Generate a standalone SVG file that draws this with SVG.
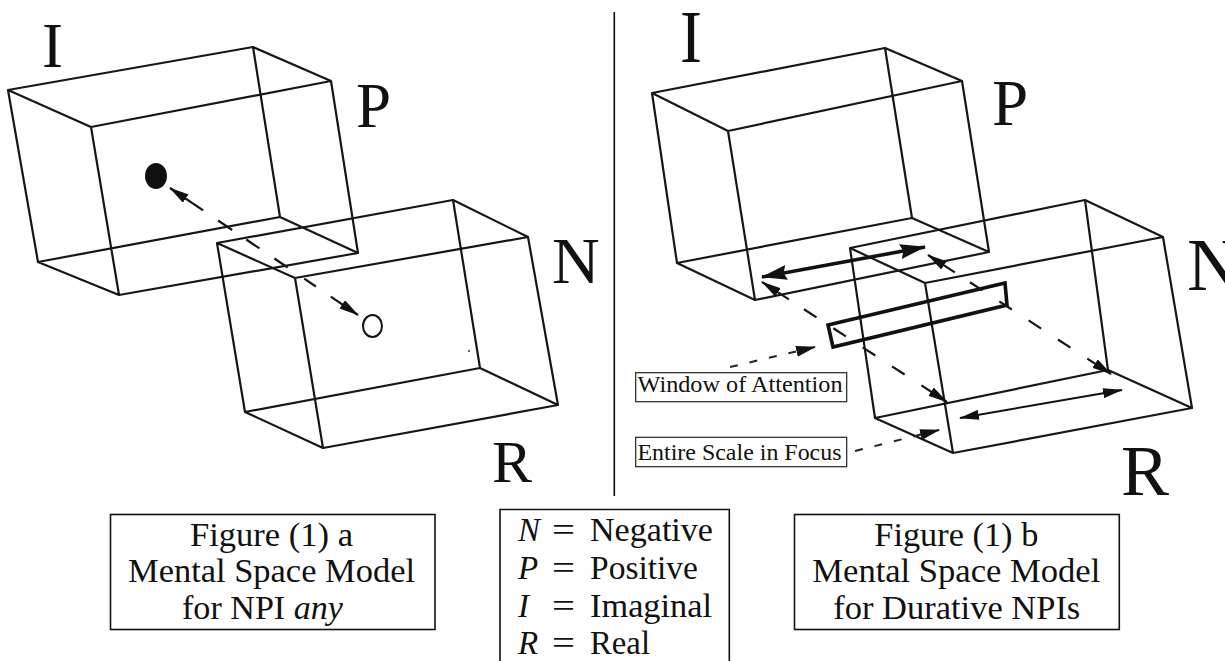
<svg xmlns="http://www.w3.org/2000/svg" width="1225" height="661" viewBox="0 0 1225 661">
<defs>
<style>
.edge{fill:none;stroke:#161616;stroke-width:2.2;stroke-linejoin:round;stroke-linecap:round}
text{fill:#111}
.cap{font-size:33px}
.small{font-size:23px}
.frame{fill:none;stroke:#111;stroke-width:1.6}
.sframe{fill:#fff;stroke:#222;stroke-width:1.2}
.dash{fill:none;stroke:#161616;stroke-width:2.2}
.thick{fill:none;stroke:#111;stroke-width:3.6;stroke-linejoin:miter}
.dot{fill:none;stroke:#222;stroke-width:2}
</style>
<marker id="ah" viewBox="0 0 20 10" markerWidth="20" markerHeight="10" refX="19" refY="5" markerUnits="userSpaceOnUse" orient="auto-start-reverse">
<path d="M0,0 L20,5 L0,10 Z" fill="#111"/>
</marker>
<marker id="ahBig" viewBox="0 0 26 15" markerWidth="26" markerHeight="15" refX="25" refY="7.5" markerUnits="userSpaceOnUse" orient="auto-start-reverse">
<path d="M0,0 L26,7.5 L0,15 L3,7.5 Z" fill="#111"/>
</marker>
<marker id="ahP" viewBox="0 0 20 11" markerWidth="20" markerHeight="11" refX="19" refY="5.5" markerUnits="userSpaceOnUse" orient="auto">
<path d="M0,0 L20,5.5 L0,11 Z" fill="#111"/>
</marker>
</defs>
<rect width="1225" height="661" fill="#fff"/>

<line x1="614.3" y1="12" x2="614.3" y2="496" stroke="#111" stroke-width="1.6"/>

<g font-family="Liberation Serif, Times New Roman, serif">
<g id="space-IP-a">
<path class="edge" d="M8,90 L253,47 L331,81 L91,127 Z M8,90 L38,262 M91,127 L119,295 M253,47 L280,217 M331,81 L358,253 M38,262 L119,295 L358,253 L280,217 Z"/>
<text x="52.5" y="67" font-size="63" text-anchor="middle">I</text>
<text x="356" y="127" font-size="63">P</text>
<ellipse cx="156" cy="176" rx="11" ry="13" fill="#111"/>
</g>
<g id="space-NR-a">
<path class="edge" d="M217,243 L453,200 L528,237 L295,278 Z M217,243 L245,412 M295,278 L323,448 M453,200 L480,368 M528,237 L558,405 M245,412 L323,448 L558,405 L480,368 Z"/>
<text x="552" y="283" font-size="66">N</text>
<text x="492" y="482" font-size="60">R</text>
<ellipse cx="372.5" cy="326" rx="9.5" ry="11" fill="none" stroke="#111" stroke-width="2"/>
<circle cx="469" cy="351" r="1" fill="#333"/>
</g>

<g id="space-IP-b">
<path class="edge" d="M652,93 L885,48 L962,81 L728,131 Z M652,93 L677,263 M728,131 L755,300 M885,48 L912,218 M962,81 L989,252 M677,263 L755,300 L989,252 L912,218 Z"/>
<text transform="translate(691,62) scale(1,1.12)" font-size="66" text-anchor="middle">I</text>
<text x="992" y="125" font-size="65">P</text>
</g>
<g id="space-NR-b">
<path class="edge" d="M850,248 L1085,200 L1163,237 L925,283 Z M850,248 L875,418 M925,283 L953,453 M1085,200 L1108,370 M1163,237 L1192,408 M875,418 L953,453 L1192,408 L1108,370 Z"/>
<text x="1187" y="290" font-size="75">N</text>
<text x="1121" y="495" font-size="72">R</text>
</g>
<g id="window-of-attention">
<polygon class="thick" points="828,325 1005,283 1007,305 833,347"/>
</g>

<g id="connectors">
<path class="dash" d="M170,188 L358,315" stroke-dasharray="40 18 17 17 16 18 16 20 14 18 40" marker-start="url(#ah)" marker-end="url(#ah)"/>
<path d="M762,277 L925,247" fill="none" stroke="#111" stroke-width="3.6" marker-start="url(#ahBig)" marker-end="url(#ahBig)"/>
<path class="dash" d="M762,282 L947,402" stroke-dasharray="32 18 15 20 15 20 15 20 15 20 40" marker-start="url(#ah)" marker-end="url(#ah)"/>
<path class="dash" d="M928,255 L1111,374" stroke-dasharray="32 18 15 20 15 20 15 20 15 20 40" marker-start="url(#ah)" marker-end="url(#ah)"/>
<path d="M960,418 L1122,390" fill="none" stroke="#111" stroke-width="2" marker-start="url(#ah)" marker-end="url(#ah)"/>
<path class="dot" d="M730,367 L815,347" stroke-dasharray="8 12" marker-end="url(#ahP)"/>
<path class="dot" d="M855,451 L939,430" stroke-dasharray="8 12" marker-end="url(#ahP)"/>
</g>

<g id="label-window">
<rect class="sframe" x="635.7" y="372.7" width="211" height="29"/>
<text class="small" x="637.5" y="392" textLength="205" lengthAdjust="spacingAndGlyphs">Window of Attention</text>
</g>
<g id="label-entire">
<rect class="sframe" x="635.7" y="437.3" width="211" height="29.4"/>
<text class="small" x="637.5" y="460" textLength="204" lengthAdjust="spacingAndGlyphs">Entire Scale in Focus</text>
</g>

<g id="caption-a">
<rect class="frame" x="110.5" y="514.5" width="324.5" height="115"/>
<text class="cap" x="190" y="546" textLength="163" lengthAdjust="spacingAndGlyphs">Figure (1) a</text>
<text class="cap" x="128" y="582" textLength="287" lengthAdjust="spacingAndGlyphs">Mental Space Model</text>
<text class="cap" x="182" y="619" textLength="161" lengthAdjust="spacingAndGlyphs">for NPI <tspan font-style="italic">any</tspan></text>
</g>
<g id="legend">
<path class="frame" d="M500,670 L500,509.5 L729.3,509.5 L729.3,670"/>
<text class="cap" x="518" y="541" font-style="italic">N</text>
<text x="552" y="541" font-size="34" textLength="23" lengthAdjust="spacingAndGlyphs">=</text>
<text class="cap" x="590" y="541" textLength="123" lengthAdjust="spacingAndGlyphs">Negative</text>
<text class="cap" x="518" y="579" font-style="italic">P</text>
<text x="552" y="579" font-size="34" textLength="23" lengthAdjust="spacingAndGlyphs">=</text>
<text class="cap" x="590" y="579" textLength="108" lengthAdjust="spacingAndGlyphs">Positive</text>
<text class="cap" x="518" y="617" font-style="italic">I</text>
<text x="552" y="617" font-size="34" textLength="23" lengthAdjust="spacingAndGlyphs">=</text>
<text class="cap" x="590" y="617" textLength="122" lengthAdjust="spacingAndGlyphs">Imaginal</text>
<text class="cap" x="518" y="654" font-style="italic">R</text>
<text x="552" y="654" font-size="34" textLength="23" lengthAdjust="spacingAndGlyphs">=</text>
<text class="cap" x="590" y="654" textLength="60" lengthAdjust="spacingAndGlyphs">Real</text>
</g>
<g id="caption-b">
<rect class="frame" x="794.5" y="514.5" width="324.8" height="115"/>
<text class="cap" x="874.3" y="546" textLength="164" lengthAdjust="spacingAndGlyphs">Figure (1) b</text>
<text class="cap" x="812.3" y="582" textLength="288" lengthAdjust="spacingAndGlyphs">Mental Space Model</text>
<text class="cap" x="833.3" y="618.5" textLength="247" lengthAdjust="spacingAndGlyphs">for Durative NPIs</text>
</g>
</g>
</svg>
